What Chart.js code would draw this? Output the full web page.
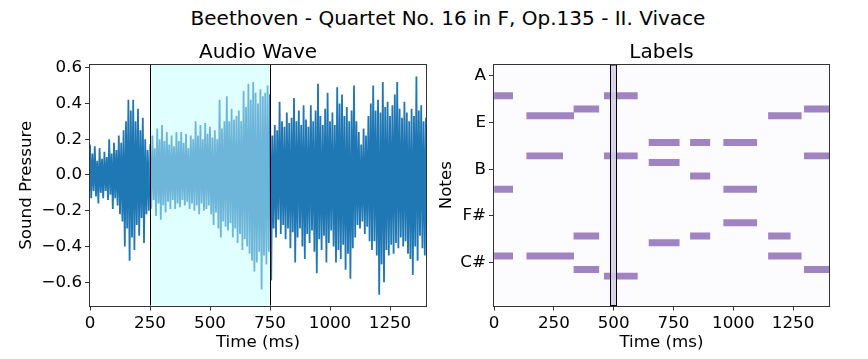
<!DOCTYPE html>
<html>
<head>
<meta charset="utf-8">
<script src="https://cdn.jsdelivr.net/npm/chart.js@4.4.1/dist/chart.umd.min.js"></script>
<style>
  html, body { margin: 0; padding: 0; width: 868px; height: 359px; overflow: hidden; background: #fff; }
  #suptitle { position: absolute; left: 14px; top: 6px; width: 868px; text-align: center;
              font: 20px/24px 'DejaVu Sans', sans-serif; color: #000; }
  canvas { position: absolute; top: 31px; }
</style>
</head>
<body>
<div id="suptitle">Beethoven - Quartet No. 16 in F, Op.135 - II. Vivace</div>
<canvas id="waveChart" width="440" height="328" style="left:0"></canvas>
<canvas id="labelsChart" width="438" height="328" style="left:430px"></canvas>
<script>
// ---- data ----
// wave peaks: upper peaks every 10 ms from 0, lower peaks every 10 ms from 5
const WAVE_UPPER = [
  0.17, 0.12, 0.16, 0.08, 0.15, 0.09, 0.13, 0.10, 0.20, 0.12, 0.18, 0.14, 0.22, 0.18, 0.25, 0.30,
  0.42, 0.36, 0.42, 0.30, 0.37, 0.25, 0.32, 0.20, 0.14, 0.17,
  0.22, 0.15, 0.26, 0.20, 0.28, 0.19, 0.24, 0.17, 0.22, 0.16,
  0.24, 0.19, 0.24, 0.18, 0.23, 0.15, 0.22, 0.20, 0.30, 0.22,
  0.28, 0.20, 0.29, 0.23, 0.27, 0.21, 0.25, 0.20, 0.42, 0.26,
  0.30, 0.44, 0.30, 0.37, 0.31, 0.33, 0.36, 0.30, 0.47, 0.38,
  0.51, 0.42, 0.52, 0.46, 0.40, 0.48, 0.44, 0.46, 0.50, 0.45,
  0.22, 0.28, 0.25, 0.41, 0.30, 0.27, 0.35, 0.29, 0.32, 0.43,
  0.30, 0.36, 0.28, 0.39, 0.31, 0.27, 0.39, 0.30, 0.36, 0.51,
  0.33, 0.28, 0.37, 0.46, 0.30, 0.35, 0.28, 0.49, 0.40, 0.45,
  0.33, 0.38, 0.30, 0.36, 0.50, 0.30, 0.24, 0.17, 0.26, 0.22,
  0.33, 0.40, 0.50, 0.36, 0.42, 0.35, 0.52, 0.38, 0.41, 0.33,
  0.39, 0.45, 0.52, 0.37, 0.32, 0.41, 0.35, 0.30, 0.37, 0.33,
  0.55, 0.36, 0.39, 0.30, 0.32
];
const WAVE_LOWER = [
  -0.13, -0.09, -0.12, -0.16, -0.10, -0.13, -0.09, -0.14, -0.11, -0.19,
  -0.13, -0.17, -0.22, -0.26, -0.40, -0.30, -0.48, -0.35, -0.42, -0.28,
  -0.34, -0.24, -0.38, -0.22, -0.20,
  -0.19, -0.14, -0.23, -0.16, -0.25, -0.17, -0.21, -0.15, -0.19, -0.14,
  -0.19, -0.16, -0.18, -0.14, -0.17, -0.15, -0.19, -0.16, -0.20, -0.17,
  -0.22, -0.16, -0.20, -0.19, -0.17, -0.22, -0.28, -0.21, -0.30, -0.35,
  -0.26, -0.29, -0.31, -0.27, -0.35, -0.30, -0.38, -0.33, -0.42, -0.36,
  -0.40, -0.44, -0.48, -0.54, -0.49, -0.43, -0.64, -0.45, -0.50, -0.43,
  -0.59, -0.30, -0.35, -0.25, -0.33, -0.28, -0.36, -0.30, -0.41, -0.32,
  -0.49, -0.35, -0.30, -0.40, -0.47, -0.33, -0.38, -0.31, -0.43, -0.55,
  -0.36, -0.42, -0.34, -0.49, -0.38, -0.31, -0.40, -0.49, -0.42, -0.47,
  -0.39, -0.53, -0.44, -0.58, -0.41, -0.35, -0.28, -0.30, -0.26, -0.33,
  -0.29, -0.37, -0.42, -0.37, -0.45, -0.67, -0.50, -0.60, -0.42, -0.45,
  -0.39, -0.44, -0.38, -0.41, -0.35, -0.40, -0.37, -0.44, -0.47, -0.56,
  -0.40, -0.48, -0.34, -0.41, -0.45
];
const PEAK_STEP_MS = 10;
const HIGHLIGHT_MS = [250, 750];

// notes: one entry per bar (row 0 = A, rows go down a semitone each)
const NOTE_ROW   = [3, 17, 27,  6, 12, 27,   5,  24,  29,   3,  12,  30,   10,  13,  25,  10,  15,  24,  10,   17,   22,    6,   24,   27,    5,   12,   29];
const NOTE_START = [0,  0,  0, 137, 137, 137, 334, 334, 334, 461, 461, 461, 648, 648, 648, 821, 821, 821, 960,  960,  960, 1147, 1147, 1147, 1297, 1297, 1297];
const NOTE_END   = [78, 78, 78, 333, 287, 333, 438, 438, 438, 599, 599, 599, 774, 774, 774, 902, 902, 902, 1098, 1098, 1098, 1284, 1238, 1284, 1400, 1400, 1400];
const FRAME_MS = [486, 510];

const TIME_TICKS = [0, 250, 500, 750, 1000, 1250];
const PRESSURE_TICKS = [-0.6, -0.4, -0.2, 0, 0.2, 0.4, 0.6];
const NOTE_TICK_ROWS = [0, 7, 14, 21, 28];
const NOTE_TICK_NAMES = ['A', 'E', 'B', 'F#', 'C#'];

// ---- style ----
Chart.defaults.font.family = "'DejaVu Sans', sans-serif";
Chart.defaults.color = '#000';
Chart.defaults.animation = false;

const DARK = '#1f77b4';
const LIGHT = '#6db6d9';
const TICK_FONT = { size: 16.7 };
const LABEL_FONT = { size: 16.7 };

const wavePoints = [];
WAVE_UPPER.forEach((v, i) => {
  wavePoints.push({ x: i * PEAK_STEP_MS, y: v });
  if (i < WAVE_LOWER.length) wavePoints.push({ x: i * PEAK_STEP_MS + PEAK_STEP_MS / 2, y: WAVE_LOWER[i] });
});

const inHighlight = x => x >= HIGHLIGHT_MS[0] && x <= HIGHLIGHT_MS[1];

const frame = {
  id: 'frame',
  afterDraw(chart) {
    const { ctx, chartArea: a } = chart;
    ctx.save();
    ctx.strokeStyle = '#333';
    ctx.lineWidth = 1;
    ctx.strokeRect(Math.round(a.left) - 0.5, Math.round(a.top) - 0.5,
                   Math.round(a.right - a.left) + 1, Math.round(a.bottom - a.top) + 1);
    ctx.restore();
  }
};

function timeAxis(height) {
  return {
    type: 'linear', min: 0, max: 1400, offset: false,
    afterBuildTicks: s => { s.ticks = TIME_TICKS.map(v => ({ value: v })); },
    afterFit: s => { s.height = height; },
    ticks: { font: TICK_FONT, padding: 3, maxRotation: 0, autoSkip: false, callback: v => String(v) },
    grid: { drawOnChartArea: false, offset: false, tickLength: 5, color: '#333' },
    border: { display: false },
    title: { display: true, text: 'Time (ms)', font: LABEL_FONT, padding: { top: 0, bottom: 6 } }
  };
}

// Audio Wave
new Chart(document.getElementById('waveChart'), {
  type: 'line',
  data: {
    datasets: [{
      data: wavePoints,
      borderColor: DARK,
      borderWidth: 1.8,
      pointRadius: 0,
      tension: 0,
      segment: {
        borderColor: c => (inHighlight(c.p0.parsed.x) && inHighlight(c.p1.parsed.x)) ? LIGHT : DARK
      }
    }]
  },
  options: {
    responsive: false,
    layout: { padding: { left: 0, right: 14, top: 0, bottom: 0 } },
    plugins: {
      legend: { display: false },
      tooltip: { enabled: false },
      title: { display: true, fullSize: false, text: 'Audio Wave', font: { size: 20, weight: 'normal' },
               padding: { top: 9.7, bottom: 0.3 } }
    },
    scales: {
      x: timeAxis(53.5),
      y: {
        type: 'linear', min: -0.73, max: 0.615,
        afterBuildTicks: s => { s.ticks = PRESSURE_TICKS.map(v => ({ value: v })); },
        afterFit: s => { s.width = 90; },
        ticks: { font: TICK_FONT, padding: 3, callback: v => v.toFixed(1).replace('-', '\u2212') },
        grid: { drawOnChartArea: false, tickLength: 5, color: '#333' },
        border: { display: false },
        title: { display: true, text: 'Sound Pressure', font: LABEL_FONT, padding: { top: 17, bottom: 0 } }
      }
    }
  },
  plugins: [{
    id: 'highlight',
    beforeDatasetsDraw(chart) {
      const { ctx, chartArea: a, scales: { x } } = chart;
      const x0 = x.getPixelForValue(HIGHLIGHT_MS[0]), x1 = x.getPixelForValue(HIGHLIGHT_MS[1]);
      ctx.save();
      ctx.fillStyle = '#e0ffff';
      ctx.fillRect(x0, a.top, x1 - x0, a.bottom - a.top);
      ctx.restore();
    },
    afterDatasetsDraw(chart) {
      const { ctx, chartArea: a, scales: { x } } = chart;
      ctx.save();
      ctx.strokeStyle = '#000';
      ctx.lineWidth = 1;
      HIGHLIGHT_MS.forEach(v => {
        const px = Math.round(x.getPixelForValue(v)) + 0.5;
        ctx.beginPath(); ctx.moveTo(px, a.top); ctx.lineTo(px, a.bottom); ctx.stroke();
      });
      ctx.restore();
    }
  }, frame]
});

// Labels
new Chart(document.getElementById('labelsChart'), {
  type: 'bar',
  data: {
    datasets: [{
      data: NOTE_ROW.map((r, i) => ({ y: r, x: [NOTE_START[i], NOTE_END[i]] })),
      backgroundColor: '#a083c1',
      borderWidth: 0,
      barThickness: 6.3
    }]
  },
  options: {
    responsive: false,
    indexAxis: 'y',
    layout: { padding: { left: 0, right: 39, top: 0, bottom: 0 } },
    plugins: {
      legend: { display: false },
      tooltip: { enabled: false },
      title: { display: true, fullSize: false, text: 'Labels', font: { size: 20, weight: 'normal' },
               padding: { top: 9.7, bottom: 0.3 } }
    },
    scales: {
      x: timeAxis(53.5),
      y: {
        type: 'linear', reverse: true, min: -1.6, max: 34.4, offset: false,
        afterBuildTicks: s => { s.ticks = NOTE_TICK_ROWS.map(v => ({ value: v })); },
        afterFit: s => { s.width = 64; },
        ticks: { font: TICK_FONT, padding: 3, callback: v => NOTE_TICK_NAMES[NOTE_TICK_ROWS.indexOf(v)] },
        grid: { drawOnChartArea: false, offset: false, tickLength: 5, color: '#333' },
        border: { display: false },
        title: { display: true, text: 'Notes', font: LABEL_FONT, padding: { top: 7, bottom: 0 } }
      }
    }
  },
  plugins: [{
    id: 'rollBg',
    beforeDatasetsDraw(chart) {
      const { ctx, chartArea: a } = chart;
      ctx.save();
      ctx.fillStyle = '#fcfbfd';
      ctx.fillRect(a.left, a.top, a.right - a.left, a.bottom - a.top);
      ctx.restore();
    },
    afterDatasetsDraw(chart) {
      const { ctx, chartArea: a, scales: { x } } = chart;
      const x0 = x.getPixelForValue(FRAME_MS[0]), x1 = x.getPixelForValue(FRAME_MS[1]);
      ctx.save();
      ctx.fillStyle = 'rgba(214, 204, 232, 0.9)';
      ctx.fillRect(x0, a.top, x1 - x0, a.bottom - a.top);
      ctx.strokeStyle = '#000';
      ctx.lineWidth = 1;
      ctx.strokeRect(Math.round(x0) + 0.5, a.top, Math.round(x1 - x0), a.bottom - a.top);
      ctx.restore();
    }
  }, frame]
});
</script>
</body>
</html>
